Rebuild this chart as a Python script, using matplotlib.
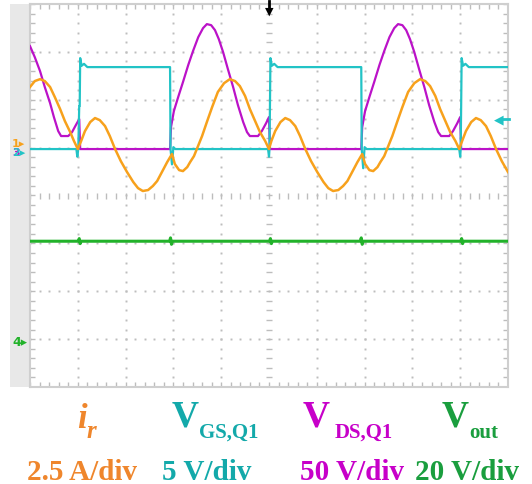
import numpy as np
import matplotlib
matplotlib.use("Agg")
import matplotlib.pyplot as plt
from matplotlib.patches import Rectangle

W, H = 532, 485

# time axis in screen divisions (10 div across), values in physical units
t_ir = [0.00, 0.10, 0.21, 0.31, 0.42, 0.52, 0.63, 0.73, 0.84, 0.92,
        1.00, 1.07, 1.15, 1.26, 1.36, 1.46, 1.57, 1.67, 1.78, 1.90, 2.03, 2.16, 2.26, 2.36,
        2.47, 2.57, 2.66, 2.76, 2.87, 2.97, 3.03, 3.12, 3.20, 3.29, 3.35, 3.43, 3.49, 3.60,
        3.70, 3.81, 3.93, 4.06, 4.18, 4.29, 4.39, 4.50, 4.60, 4.71, 4.81, 4.92, 5.00,
        5.05, 5.13, 5.24, 5.34, 5.44, 5.55, 5.65, 5.76, 5.88, 6.01, 6.14, 6.24, 6.34,
        6.45, 6.55, 6.64, 6.74, 6.85, 6.95, 7.01, 7.10, 7.18, 7.27, 7.33, 7.41, 7.47, 7.58,
        7.68, 7.79, 7.91, 8.04, 8.16, 8.27, 8.37, 8.48, 8.58, 8.69, 8.79, 8.90, 8.98,
        9.04, 9.12, 9.23, 9.33, 9.43, 9.54, 9.64, 9.75, 9.87, 10.00]
ir = [3.24, 3.55, 3.65, 3.55, 3.24, 2.71, 2.09, 1.46, 0.89, 0.42,
      0.00, 0.42, 0.94, 1.41, 1.62, 1.51, 1.20, 0.68, 0.00, -0.63, -1.20, -1.72, -2.04, -2.19,
      -2.14, -1.93, -1.67, -1.20, -0.68, -0.26, -0.78, -1.10, -1.15, -0.94, -0.68, -0.37, 0.00, 0.68,
      1.41, 2.19, 2.98, 3.44, 3.65, 3.55, 3.29, 2.77, 2.09, 1.46, 0.89, 0.42, 0.00,
      0.42, 0.94, 1.41, 1.62, 1.51, 1.20, 0.68, 0.00, -0.63, -1.20, -1.72, -2.04, -2.19,
      -2.14, -1.93, -1.67, -1.20, -0.68, -0.26, -0.78, -1.10, -1.15, -0.94, -0.68, -0.37, 0.00, 0.68,
      1.41, 2.19, 2.98, 3.44, 3.65, 3.55, 3.29, 2.77, 2.09, 1.46, 0.89, 0.42, 0.00,
      0.42, 0.94, 1.41, 1.62, 1.51, 1.20, 0.68, 0.00, -0.63, -1.20]

t_gs = [0.00, 0.97, 0.99, 1.01, 1.03, 1.04, 1.05, 1.08, 1.13, 1.20, 2.93, 2.94, 2.97, 3.00, 3.04,
        4.98, 5.00, 5.01, 5.02, 5.03, 5.06, 5.11, 5.18, 6.93, 6.94, 6.97, 7.00, 7.04,
        8.98, 9.00, 9.01, 9.02, 9.03, 9.06, 9.11, 9.18, 10.00]
vgs = [0.0, 0.0, -0.8, 0.0, 4.5, 4.5, 9.5, 8.7, 8.9, 8.56, 8.56, 0.0, -1.6, 0.2, 0.0,
       0.0, -0.8, 0.0, 4.5, 9.5, 8.7, 8.9, 8.56, 8.56, 0.0, -2.0, 0.2, 0.0,
       0.0, -0.8, 0.0, 4.5, 9.5, 8.7, 8.9, 8.56, 8.56]

t_ds = [0.00, 0.10, 0.21, 0.31, 0.42, 0.50, 0.59, 0.65, 0.80, 0.88, 0.96, 1.03, 1.05,
        2.93, 2.95, 3.01, 3.10, 3.20, 3.31, 3.41, 3.52, 3.62, 3.70, 3.79, 3.87, 3.95, 4.04,
        4.14, 4.25, 4.35, 4.46, 4.54, 4.60, 4.77, 4.85, 4.94, 5.00, 5.02,
        6.93, 6.95, 7.01, 7.10, 7.20, 7.31, 7.41, 7.52, 7.62, 7.70, 7.79, 7.87, 7.95, 8.04,
        8.14, 8.25, 8.35, 8.46, 8.54, 8.60, 8.77, 8.85, 8.94, 9.00, 9.02, 10.00]
vds = [107.5, 96.0, 81.4, 64.7, 48.0, 33.4, 18.8, 13.6, 13.6, 17.7, 25.1, 31.3, 0.0,
       0.0, 23.0, 39.7, 54.3, 69.9, 87.7, 102.3, 116.9, 126.3, 130.5, 129.4, 124.2, 114.8, 101.2,
       83.5, 64.7, 45.9, 28.2, 17.7, 13.6, 13.6, 18.8, 27.1, 33.4, 0.0,
       0.0, 23.0, 39.7, 54.3, 69.9, 87.7, 102.3, 116.9, 126.3, 130.5, 129.4, 124.2, 114.8, 101.2,
       83.5, 64.7, 45.9, 28.2, 17.7, 13.6, 13.6, 18.8, 27.1, 33.4, 0.0, 0.0]

t_out = [0.00, 1.01, 1.03, 1.05, 1.07, 2.92, 2.94, 2.96, 2.98, 5.01, 5.03, 5.05, 5.07,
         6.91, 6.93, 6.95, 6.97, 9.01, 9.03, 9.05, 9.07, 10.00]
vout = [40.9, 40.9, 42.0, 39.9, 40.9, 40.9, 42.3, 39.6, 40.9, 40.9, 42.0, 39.9, 40.9,
        40.9, 42.3, 39.6, 40.9, 40.9, 42.0, 39.9, 40.9, 40.9]

# channel scale (units/div) and ground offset (div from screen centre)
ch_scale = {"ir": 2.5, "vgs": 5.0, "vds": 50.0, "vout": 20.0}
ch_zero = {"ir": 0.97, "vgs": 0.97, "vds": 0.97, "vout": -3.0}

c_ir, c_gs, c_ds, c_out = "#f7a11c", "#22c3c6", "#bb12c8", "#22b22a"
t_ir_col, t_gs_col, t_ds_col, t_out_col = "#ef862c", "#13a9aa", "#c700c9", "#1a9e3e"


def to_div(vals, ch):
    return ch_zero[ch] + np.asarray(vals) / ch_scale[ch]


def px(x, y):
    return x / W, 1 - y / H


fig = plt.figure(figsize=(W / 100, H / 100), dpi=100)
fig.patch.set_facecolor("white")

# grey strip left of the screen
fig.add_artist(Rectangle(px(10, 388), 20 / W, 383 / H, transform=fig.transFigure,
                         facecolor="#e8e8e8", edgecolor="none", zorder=0))

ax = fig.add_axes([30 / W, 1 - 388 / H, 478 / W, 383 / H])
ax.set_xlim(0, 10)
ax.set_ylim(-4, 4)
ax.set_xticks([])
ax.set_yticks([])
for s in ax.spines.values():
    s.set_color("#cfcfcf")
    s.set_linewidth(1.5)

# dotted graticule
minor_x = np.arange(0, 10.01, 0.2)
minor_y = np.arange(-4, 4.01, 0.2)
gc = "#bdbdbd"
for gx in range(1, 10):
    if gx == 5:
        continue
    ax.plot(np.full_like(minor_y, gx), minor_y, ls="none", marker="s", ms=1.4, color=gc, mew=0)
for gy in range(-3, 4):
    if gy == 0:
        continue
    ax.plot(minor_x, np.full_like(minor_x, gy), ls="none", marker="s", ms=1.4, color=gc, mew=0)
# centre axes with ticks
ax.plot(minor_x, np.zeros_like(minor_x), ls="none", marker="|", ms=5, color=gc, mew=1.0)
ax.plot(np.full_like(minor_y, 5), minor_y, ls="none", marker="_", ms=5, color=gc, mew=1.0)
# border ticks
ax.plot(np.zeros_like(minor_y), minor_y, ls="none", marker="_", ms=7, color=gc, mew=1.0)
ax.plot(np.full_like(minor_y, 10), minor_y, ls="none", marker="_", ms=7, color=gc, mew=1.0)
ax.plot(minor_x, np.full_like(minor_x, -4), ls="none", marker="|", ms=7, color=gc, mew=1.0)
ax.plot(minor_x, np.full_like(minor_x, 4), ls="none", marker="|", ms=7, color=gc, mew=1.0)

# traces
ax.plot(t_out, to_div(vout, "vout"), color=c_out, lw=2.2, zorder=3)
ax.plot(t_ds, to_div(vds, "vds"), color=c_ds, lw=1.6, zorder=4)
ax.plot(t_gs, to_div(vgs, "vgs"), color=c_gs, lw=1.6, zorder=5)
ax.plot(t_ir, to_div(ir, "ir"), color=c_ir, lw=1.8, zorder=6)

# channel markers
fig.text(*px(12, 144), "1▸", color=c_ir, fontsize=8, fontweight="bold", va="center")
fig.text(*px(12, 153), "3", color=c_ds, fontsize=8, fontweight="bold", va="center")
fig.text(*px(12, 153), "2▸", color=c_gs, fontsize=8, fontweight="bold", va="center")
fig.text(*px(12, 343), "4▸", color=c_out, fontsize=9, fontweight="bold", va="center")

# trigger markers
fig.add_artist(plt.Line2D([269 / W, 269 / W], [1 - 2 / H, 1 - 10 / H], color="black", lw=2))
fig.text(*px(269, 12), "▼", color="black", fontsize=8, ha="center", va="center")
fig.text(*px(499, 120), "◀", color=c_gs, fontsize=9, ha="center", va="center")
fig.add_artist(plt.Line2D([500 / W, 509 / W], [1 - 120 / H, 1 - 120 / H], color=c_gs, lw=2))

# labels
serif = "Liberation Serif"
fig.text(*px(77, 428), "i", color=t_ir_col, fontsize=25, family=serif, fontweight="bold",
         style="italic", va="baseline")
fig.text(*px(86, 438), "r", color=t_ir_col, fontsize=18, family=serif, fontweight="bold",
         style="italic", va="baseline")

fig.text(*px(172, 427), "V", color=t_gs_col, fontsize=27, family=serif, fontweight="bold", va="baseline")
fig.text(*px(199, 438), "GS,Q1", color=t_gs_col, fontsize=15, family=serif, fontweight="bold", va="baseline")

fig.text(*px(303, 427), "V", color=t_ds_col, fontsize=27, family=serif, fontweight="bold", va="baseline")
fig.text(*px(335, 438), "DS,Q1", color=t_ds_col, fontsize=15, family=serif, fontweight="bold", va="baseline")

fig.text(*px(442, 427), "V", color=t_out_col, fontsize=27, family=serif, fontweight="bold", va="baseline")
fig.text(*px(469, 438), "out", color=t_out_col, fontsize=15, family=serif, fontweight="bold", va="baseline")

row2 = [(27, "2.5 A/div", t_ir_col), (162, "5 V/div", t_gs_col),
        (300, "50 V/div", t_ds_col), (415, "20 V/div", t_out_col)]
for x, s, c in row2:
    fig.text(*px(x, 480), s, color=c, fontsize=21, family=serif, fontweight="bold", va="baseline")

fig.savefig("out.png", dpi=100)
